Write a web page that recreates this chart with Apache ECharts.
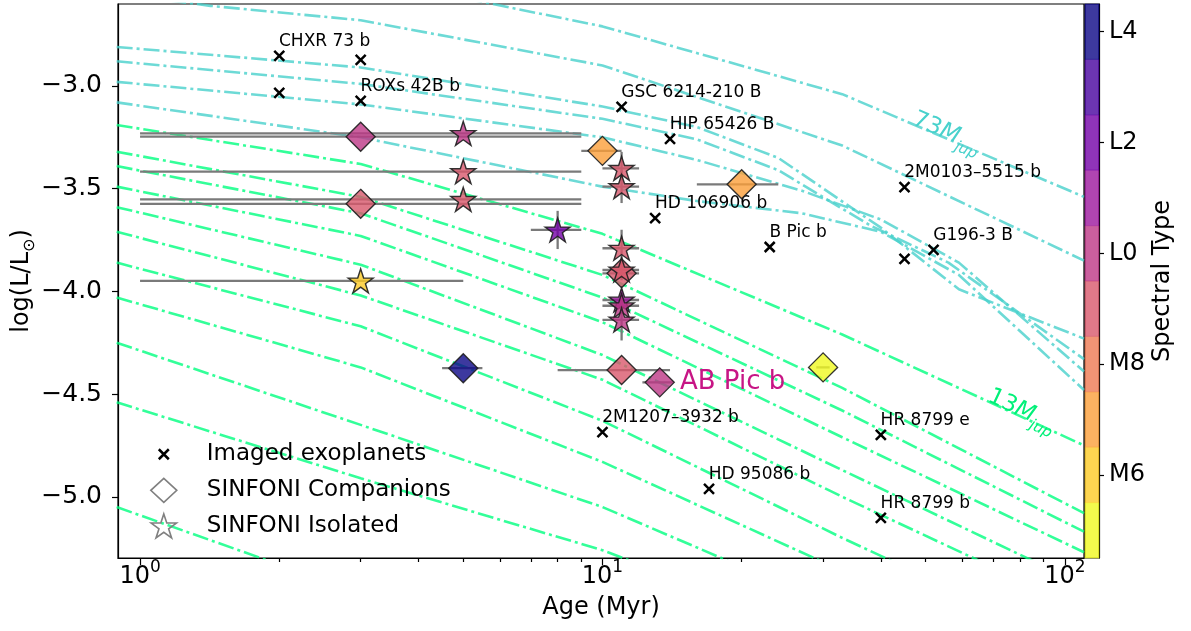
<!DOCTYPE html>
<html>
<head>
<meta charset="utf-8">
<script src="https://cdn.jsdelivr.net/npm/echarts@6/dist/echarts.min.js"></script>
<style>
  html, body { margin: 0; padding: 0; background: #fff; }
  #chart { width: 1191px; height: 631px; }
</style>
</head>
<body>
<div id="chart"></div>
<script>
// ---- Spectral-type colour scale (M5 = 5 ... M9 = 9, L0 = 10 ... L4 = 14) ----
const sptCodes = [5, 6, 7, 8, 9, 10, 11, 12, 13, 14];
const sptTickCodes = [6, 8, 10, 12, 14];
const sptTickLabels = ['M6', 'M8', 'L0', 'L2', 'L4'];
const plasmaSteps = ['#f0f921', '#fdca26', '#fb9f3a', '#ed7953', '#d8576b',
                     '#bd3786', '#9c179e', '#7301a8', '#47039f', '#0d0887'];

// ---- Axis ticks ----
const ageTicks = [1, 10, 100];
const ageMinorTicks = [2, 3, 4, 5, 6, 7, 8, 9, 20, 30, 40, 50, 60, 70, 80, 90];
const lumTicks = [-5.0, -4.5, -4.0, -3.5, -3.0];

// ---- Evolutionary tracks, points are [age (Myr), log(L/Lsun)] ----
const track73 = [[3, -2.47], [10, -2.71], [33, -3.04], [110, -3.54]];
const trackB = [[0.89, -2.55], [1.42, -2.61], [3, -2.68], [10, -2.90], [33, -3.29], [110, -3.85]];
const trackC = [[0.89, -2.81], [3, -2.91], [10, -3.10], [16, -3.20], [24, -3.35], [40, -3.69], [59, -3.99], [110, -4.23]];
const trackD = [[0.89, -2.88], [3, -2.99], [10, -3.16], [16, -3.26], [24, -3.41], [38, -3.68], [56, -3.86], [110, -4.33]];
const trackE = [[0.89, -2.98], [3, -3.09], [10, -3.25], [16, -3.36], [27, -3.51], [40, -3.65], [59, -3.86], [110, -4.39]];
const trackF = [[0.89, -3.08], [3, -3.25], [10, -3.49], [16, -3.56], [27, -3.62], [40, -3.71], [59, -3.92], [110, -4.48]];
const browndwarfTracks = [track73, trackB, trackC, trackD, trackE, trackF];

const track13 = [[0.89, -3.19], [3, -3.38], [10, -3.72], [33, -4.21], [110, -4.75]];
const planetTracks = [
  track13,
  [[0.89, -3.32], [3, -3.54], [10, -3.92], [33, -4.47], [110, -5.08]],
  [[0.89, -3.39], [3, -3.62], [10, -4.03], [33, -4.58], [110, -5.17]],
  [[0.89, -3.49], [3, -3.73], [10, -4.15], [33, -4.71], [110, -5.27]],
  [[0.89, -3.59], [3, -3.87], [10, -4.31], [33, -4.87], [110, -5.43]],
  [[0.89, -3.71], [3, -4.02], [10, -4.43], [33, -5.00], [110, -5.55]],
  [[0.89, -3.86], [3, -4.17], [10, -4.63], [33, -5.20], [110, -5.75]],
  [[0.89, -4.03], [3, -4.37], [10, -4.83], [33, -5.36]],
  [[0.89, -4.25], [3, -4.65], [10, -5.05], [33, -5.55]],
  [[0.89, -4.54], [3, -4.91], [10, -5.26], [33, -5.70]],
  [[0.89, -5.05], [3, -5.47]]
];

// ---- Track labels: [age, log L, rotation in degrees] ----
const label73 = [55.3, -3.239, -23];
const label13 = [80.4, -4.592, -25];

// ---- Imaged exoplanets ----
const exoNames = ['CHXR 73 b', '', '', 'ROXs 42B b', 'GSC 6214-210 B', 'HIP 65426 B', 'HD 106906 b',
                  'B Pic b', '2M0103\u20135515 b', '', 'G196-3 B', '2M1207\u20133932 b', 'HD 95086 b',
                  'HR 8799 e', 'HR 8799 b'];
const exoAge = [2.0, 3.0, 2.0, 3.0, 11.0, 14.0, 13.0, 23.0, 45, 45, 52, 10.0, 17.0, 40, 40];
const exoLum = [-2.854, -2.873, -3.034, -3.073, -3.102, -3.258, -3.643, -3.784, -3.492, -3.842,
                -3.798, -4.685, -4.962, -4.699, -5.103];

// ---- SINFONI companions ----
const compNames = ['', '', '', '', '', '', 'AB Pic b', '', ''];
const compAge = [3, 3, 10, 20, 11, 11, 13.3, 5, 30];
const compLum = [-3.247, -3.574, -3.316, -3.479, -3.912, -4.383, -4.443, -4.374, -4.370];
const compSpt = [10, 9, 7, 7, 9, 9, 10, 14, 5];
const compAgeLo = [1, 1, 9, 16, 10, 8, 12.2, 4.5, 29];
const compAgeHi = [9, 9, 11, 24, 12, 14, 14.2, 5.5, 31];

// ---- SINFONI isolated objects ----
const isoAge = [5, 5, 5, 3, 8, 11, 11, 11, 11, 11, 11, 11];
const isoLum = [-3.231, -3.417, -3.552, -3.949, -3.701, -3.401, -3.490, -3.790, -3.896, -4.042, -4.070, -4.139];
const isoSpt = [10, 9, 9, 6, 12, 9, 9, 9, 9, 11, 10, 10];
const isoAgeLo = [1, 1, 1, 1, 7, 10, 10, 10, 10, 10, 10, 10];
const isoAgeHi = [9, 9, 9, 5, 9, 12, 12, 12, 12, 12, 12, 12];
const isoLumErr = [0, 0, 0, 0, 0.093, 0.08, 0.08, 0.09, 0.05, 0.05, 0.05, 0.1];

// ------------------------------------------------------------------------
const FONT = 'DejaVu Sans';
const CYAN = '#48d1cc';
const GREEN = '#00ff7f';
const GREEN_TEXT = '#00f078';
const MAGENTA = '#c71585';

function withAlpha(hex, a) {
  const n = parseInt(hex.slice(1), 16);
  return 'rgba(' + ((n >> 16) & 255) + ',' + ((n >> 8) & 255) + ',' + (n & 255) + ',' + a + ')';
}
const sptColor = s => withAlpha(plasmaSteps[s - 5], 0.8);

function starPath() {
  const pts = [];
  for (let i = 0; i < 10; i++) {
    const r = i % 2 ? 0.382 : 1;
    const a = -Math.PI / 2 + i * Math.PI / 5;
    pts.push((r * Math.cos(a)).toFixed(4) + ',' + (r * Math.sin(a)).toFixed(4));
  }
  return 'path://M' + pts.join('L') + 'Z';
}
const STAR = starPath();
const CROSS = 'path://M0,0L10,10M10,0L0,10';
const CROSS_LEGEND = 'path://M-7,-7M17,17M0,0L10,10M10,0L0,10';
const DASH_DOT = [16, 4, 3, 4];

function trackSeries(points, color) {
  return {
    type: 'line', xAxisIndex: 0, yAxisIndex: 0, data: points,
    symbol: 'none', showSymbol: false, silent: true, z: 1, clip: true,
    lineStyle: { color: color, width: 2.6, type: DASH_DOT, opacity: 0.8 },
    emphasis: { disabled: true }
  };
}

function trackLabel(pos, text, color) {
  return {
    type: 'scatter', xAxisIndex: 0, yAxisIndex: 0, silent: true, z: 3,
    symbol: 'circle', symbolSize: 1, itemStyle: { color: 'rgba(0,0,0,0)', opacity: 1 },
    data: [[pos[0], pos[1]]],
    label: {
      show: true, position: 'inside', rotate: pos[2],
      formatter: '{n|' + text + '}{m|M}{j|jup}',
      rich: {
        n: { fontFamily: FONT, fontSize: 23, color: color, verticalAlign: 'bottom', padding: [0, 0, 5, 0] },
        m: { fontFamily: FONT, fontSize: 23, color: color, fontStyle: 'italic', verticalAlign: 'bottom', padding: [0, 0, 5, 0] },
        j: { fontFamily: FONT, fontSize: 15, color: color, fontStyle: 'italic', verticalAlign: 'bottom' }
      }
    }
  };
}

// error bar rows: [x, y, xlo, xhi, ylo, yhi]
const errRows = [];
compAge.forEach((a, i) => errRows.push([a, compLum[i], compAgeLo[i], compAgeHi[i], compLum[i], compLum[i]]));
isoAge.forEach((a, i) => errRows.push([a, isoLum[i], isoAgeLo[i], isoAgeHi[i],
  isoLum[i] - isoLumErr[i], isoLum[i] + isoLumErr[i]]));

const axisBlack = { color: '#000', width: 1.2 };

const series = [];
browndwarfTracks.forEach(t => series.push(trackSeries(t, CYAN)));
planetTracks.forEach(t => series.push(trackSeries(t, GREEN)));
series.push(trackLabel(label73, '73', CYAN));
series.push(trackLabel(label13, '13', GREEN_TEXT));

series.push({
  type: 'custom', name: 'errors', xAxisIndex: 0, yAxisIndex: 0, silent: true, z: 2, clip: true,
  data: errRows, encode: { x: [0, 2, 3], y: [1, 4, 5] },
  renderItem: function (params, api) {
    const x = api.value(0), y = api.value(1);
    const a = api.coord([api.value(2), y]), b = api.coord([api.value(3), y]);
    const style = { stroke: '#7a7a7a', lineWidth: 2.3, fill: null };
    const children = [{ type: 'line', shape: { x1: a[0], y1: a[1], x2: b[0], y2: b[1] }, style: style }];
    if (api.value(4) !== api.value(5)) {
      const c = api.coord([x, api.value(4)]), d = api.coord([x, api.value(5)]);
      children.push({ type: 'line', shape: { x1: c[0], y1: c[1], x2: d[0], y2: d[1] }, style: style });
    }
    return { type: 'group', children: children };
  }
});

series.push({
  type: 'scatter', name: 'Imaged exoplanets', xAxisIndex: 0, yAxisIndex: 0, silent: true, z: 4,
  symbol: CROSS, symbolSize: 10,
  itemStyle: { color: '#000', borderColor: '#000', borderWidth: 2.5, opacity: 1 },
  data: exoAge.map((a, i) => ({ name: exoNames[i], value: [a, exoLum[i]] })),
  label: {
    show: true, formatter: '{b}', position: [6, -8.5], align: 'left', verticalAlign: 'middle',
    fontFamily: FONT, fontSize: 17, color: '#000', opacity: 1
  }
});

series.push({
  type: 'scatter', name: 'SINFONI Companions', xAxisIndex: 0, yAxisIndex: 0, silent: true, z: 5,
  symbol: 'diamond', symbolSize: 29,
  itemStyle: { borderColor: 'rgba(30,30,30,0.9)', borderWidth: 1.4, opacity: 1 },
  data: compAge.map((a, i) => {
    const item = { value: [a, compLum[i], compSpt[i]], itemStyle: { color: sptColor(compSpt[i]) } };
    if (compNames[i]) {
      item.label = {
        show: true, formatter: compNames[i], position: 'right', distance: 5,
        fontFamily: FONT, fontSize: 26, color: MAGENTA, opacity: 1
      };
    }
    return item;
  })
});

series.push({
  type: 'scatter', name: 'SINFONI Isolated', xAxisIndex: 0, yAxisIndex: 0, silent: true, z: 6,
  symbol: STAR, symbolSize: [25, 24],
  itemStyle: { borderColor: 'rgba(30,30,30,0.9)', borderWidth: 1.4, opacity: 1 },
  data: isoAge.map((a, i) => ({ value: [a, isoLum[i], isoSpt[i]], itemStyle: { color: sptColor(isoSpt[i]) } }))
});

// colour bar bands
series.push({
  type: 'custom', xAxisIndex: 2, yAxisIndex: 1, silent: true, z: 2,
  data: sptCodes.map(c => [0, c - 0.5, c + 0.5]),
  encode: { x: 0, y: [1, 2] },
  renderItem: function (params, api) {
    const lo = api.coord([0, api.value(1)]), hi = api.coord([0, api.value(2)]);
    const cs = params.coordSys;
    const fill = withAlpha(plasmaSteps[params.dataIndex], 0.8);
    return {
      type: 'rect',
      shape: { x: cs.x, y: hi[1], width: cs.width, height: lo[1] - hi[1] },
      style: { fill: fill, stroke: fill, lineWidth: 0.5 }
    };
  }
});

const gridBase = { show: true, borderColor: '#000', borderWidth: 1.2, backgroundColor: 'transparent',
                   containLabel: false, outerBoundsMode: 'none' };

const option = {
  animation: false,
  backgroundColor: '#fff',
  textStyle: { fontFamily: FONT },
  grid: [
    Object.assign({ left: 118, top: 4, width: 966, height: 554 }, gridBase),
    Object.assign({ left: 1085, top: 4, width: 14, height: 554 }, gridBase),
    Object.assign({ left: 118, top: 4, width: 966, height: 554 }, gridBase, { show: false })
  ],
  xAxis: [
    {
      type: 'log', logBase: 10, gridIndex: 0, min: 0.896, max: 110, position: 'bottom',
      axisLine: { show: true, onZero: false, lineStyle: axisBlack },
      axisTick: { show: true, inside: false, length: 7, lineStyle: axisBlack, customValues: ageTicks },
      axisLabel: {
        customValues: ageTicks, margin: 1, color: '#000',
        formatter: v => '{b|10}{e|' + Math.round(Math.log10(v)) + '}',
        rich: {
          b: { fontFamily: FONT, fontSize: 24, color: '#000', verticalAlign: 'bottom', padding: [6, 0, 0, 0] },
          e: { fontFamily: FONT, fontSize: 17, color: '#000', verticalAlign: 'top' }
        }
      },
      splitLine: { show: false }, minorTick: { show: false },
      name: 'Age (Myr)', nameLocation: 'middle', nameGap: 38, nameMoveOverlap: false,
      nameTextStyle: { fontFamily: FONT, fontSize: 24, color: '#000' }
    },
    {
      type: 'log', logBase: 10, gridIndex: 2, min: 0.896, max: 110, position: 'bottom',
      axisLine: { show: false },
      axisTick: { show: true, inside: false, length: 4, lineStyle: axisBlack, customValues: ageMinorTicks },
      axisLabel: { show: false }, splitLine: { show: false }
    },
    { type: 'value', gridIndex: 1, min: 0, max: 1, show: false }
  ],
  yAxis: [
    {
      type: 'value', gridIndex: 0, min: -5.298, max: -2.601,
      axisLine: { show: true, onZero: false, lineStyle: axisBlack },
      axisTick: { show: true, inside: false, length: 6, lineStyle: axisBlack, customValues: lumTicks },
      axisLabel: {
        customValues: lumTicks, margin: 16, fontFamily: FONT, fontSize: 25, color: '#000',
        formatter: v => (v < 0 ? '\u2212' : '') + Math.abs(v).toFixed(1)
      },
      splitLine: { show: false },
      name: '{a|log(L/L}{s|\u2299}{a|)}', nameLocation: 'middle', nameGap: 80, nameRotate: 90,
      nameMoveOverlap: false,
      nameTextStyle: {
        rich: {
          a: { fontFamily: FONT, fontSize: 24, color: '#000', verticalAlign: 'bottom', padding: [0, 0, 4, 0] },
          s: { fontFamily: FONT, fontSize: 16, color: '#000', verticalAlign: 'bottom' }
        }
      }
    },
    {
      type: 'value', gridIndex: 1, min: 4.5, max: 14.5, position: 'right',
      axisLine: { show: true, onZero: false, lineStyle: axisBlack },
      axisTick: { show: true, inside: false, length: 5, lineStyle: axisBlack, customValues: sptTickCodes },
      axisLabel: {
        customValues: sptTickCodes, margin: 10, fontFamily: FONT, fontSize: 24, color: '#000',
        formatter: v => sptTickLabels[sptTickCodes.indexOf(Math.round(v))] || ''
      },
      splitLine: { show: false },
      name: 'Spectral Type', nameLocation: 'middle', nameGap: 52, nameRotate: 90,
      nameMoveOverlap: false,
      nameTextStyle: { fontFamily: FONT, fontSize: 24, color: '#000' }
    },
    { type: 'value', gridIndex: 2, min: 0, max: 1, show: false }
  ],
  legend: {
    orient: 'vertical', left: 145, top: 436, itemWidth: 26, itemHeight: 24, itemGap: 10,
    selectedMode: false,
    textStyle: { fontFamily: FONT, fontSize: 23, color: '#000', padding: [0, 0, 0, 25] },
    data: [
      { name: 'Imaged exoplanets', icon: CROSS_LEGEND, itemStyle: { color: '#000', borderColor: '#000', borderWidth: 2.5, opacity: 1 } },
      { name: 'SINFONI Companions', icon: 'diamond', itemStyle: { color: 'rgba(0,0,0,0)', borderColor: '#808080', borderWidth: 1.6, opacity: 1 } },
      { name: 'SINFONI Isolated', icon: STAR, itemStyle: { color: 'rgba(0,0,0,0)', borderColor: '#808080', borderWidth: 1.6, opacity: 1 } }
    ]
  },
  series: series
};

const chart = echarts.init(document.getElementById('chart'));
chart.setOption(option);
</script>
</body>
</html>
